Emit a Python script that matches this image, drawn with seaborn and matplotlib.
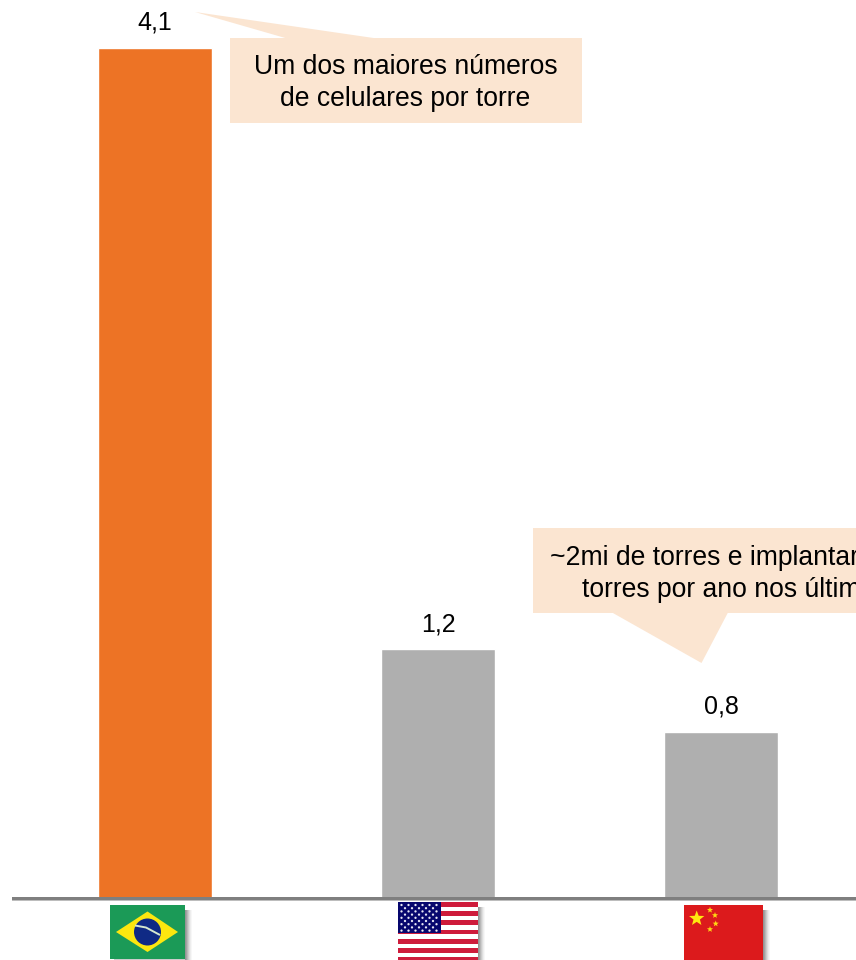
import numpy as np
import pandas as pd
import matplotlib
matplotlib.use("Agg")
import matplotlib.pyplot as plt
from matplotlib.patches import Polygon, Rectangle, Circle
import seaborn as sns

# Values
countries = ["Brasil", "EUA", "China"]
values = [4.1, 1.2, 0.8]
value_labels = ["4,1", "1,2", "0,8"]
bar_colors = ["#ED7325", "#AFAFAF", "#AFAFAF"]
note_brazil = "Um dos maiores números\nde celulares por torre"
note_china = ["~2mi de torres e implantar", "torres por ano nos últim"]

sns.set_theme(style="white")
plt.rcParams["font.family"] = ["Liberation Sans", "DejaVu Sans"]

df = pd.DataFrame({"pais": countries, "valor": values})

fig = plt.figure(figsize=(8.56, 9.6), dpi=100)
ax = fig.add_axes([0, 0, 1, 1])
sns.barplot(data=df, x="pais", y="valor", hue="pais", palette=bar_colors,
            width=0.404, legend=False, saturation=1, ax=ax)

# bars sit 283px apart, 207px per unit, baseline at y=898
ax.set_xlim(-155 / 283, (856 - 155) / 283)
ax.set_ylim(-(960 - 898) / 207.3, 898 / 207.3)
ax.axis("off")

for i, lab in enumerate(value_labels):
    ax.annotate(lab, (i, values[i]), xytext=(0, 9.5), textcoords="offset points",
                ha="center", va="bottom", fontsize=18, color="black")

# overlay in pixel coordinates for the callouts, axis line and flags
ov = fig.add_axes([0, 0, 1, 1])
ov.set_xlim(0, 856)
ov.set_ylim(960, 0)
ov.axis("off")
ov.patch.set_alpha(0)

# axis line
ov.add_patch(Rectangle((12, 897), 844, 2.6, color="#7F7F7F", lw=0))
ov.add_patch(Rectangle((12, 899.6), 844, 1, color="#BDBDBD", lw=0))

# callouts
peach = "#FBE5D1"
ov.add_patch(Rectangle((230, 38), 352, 85, color=peach, lw=0))
ov.add_patch(Polygon([(287, 38.5), (195, 12), (377, 38.5)], color=peach, lw=0))
ov.text(405.5, 67.5, note_brazil.split("\n")[0], ha="center", va="center", fontsize=19.1, color="black")
ov.text(405.5, 99.5, note_brazil.split("\n")[1], ha="center", va="center", fontsize=19.1, color="black")

ov.add_patch(Rectangle((533, 528), 330, 85, color=peach, lw=0))
ov.add_patch(Polygon([(612, 612.5), (701.5, 663), (728, 612.5)], color=peach, lw=0))
ov.text(550, 558, note_china[0], ha="left", va="center", fontsize=19.1, color="black")
ov.text(582, 590, note_china[1], ha="left", va="center", fontsize=19.1, color="black")


def shadow(x0, x1, y0, y1):
    # soft drop shadow on the right and bottom of a flag
    for k, a in zip(range(1, 8), [0.42, 0.36, 0.28, 0.2, 0.13, 0.07, 0.03]):
        ov.add_patch(Rectangle((x1 + k - 1, y0 + 5), 1, y1 - y0, color="black", alpha=a, lw=0))
    for k, a in zip(range(1, 4), [0.2, 0.1, 0.04]):
        ov.add_patch(Rectangle((x0 + 4, y1 + k - 1), x1 - x0 - 4, 1, color="black", alpha=a, lw=0))


def star(x, y, r, color, z=3):
    pts = []
    for j in range(10):
        rr = r if j % 2 == 0 else r * 0.42
        ang = -np.pi / 2 + j * np.pi / 5
        pts.append((x + rr * np.cos(ang), y + rr * np.sin(ang)))
    ov.add_patch(Polygon(pts, color=color, lw=0, zorder=z))


# Brazil
shadow(110, 185, 905, 959)
ov.add_patch(Rectangle((110, 905), 75, 54, color="#1B9A57", lw=0))
ov.add_patch(Polygon([(116, 932), (147.5, 911.5), (178, 932), (147.5, 952)], color="#FCE70F", lw=0))
ov.add_patch(Circle((147.5, 932), 13.5, color="#0F2A85", lw=0))
ov.plot([135, 146, 160], [925.5, 927.5, 935], color="#D5E8D0", lw=1.4, solid_capstyle="butt")

# USA
shadow(398, 478, 902, 960)
ov.add_patch(Rectangle((398, 902), 80, 58, color="white", lw=0))
for s in range(0, 13, 2):
    ov.add_patch(Rectangle((398, 902 + s * 4.62), 80, 4.62, color="#CE1B3B", lw=0))
ov.add_patch(Rectangle((398, 902), 43, 31, color="#07076E", lw=0))
for row in range(9):
    n = 6 if row % 2 == 0 else 5
    off = 401.5 if row % 2 == 0 else 405
    for c in range(n):
        ov.add_patch(Circle((off + c * 7, 905 + row * 3.2), 1.15, color="#E8E8F4", lw=0))

# China
shadow(684, 763, 905, 960)
ov.add_patch(Rectangle((684, 905), 79, 55, color="#DC1A1C", lw=0))
star(696.7, 918.5, 8, "#FFE80F")
for sx, sy in [(710, 910), (715, 915.3), (715.7, 923.7), (710, 929.3)]:
    star(sx, sy, 3.2, "#FFD814")

fig.savefig("out.png", dpi=100)
